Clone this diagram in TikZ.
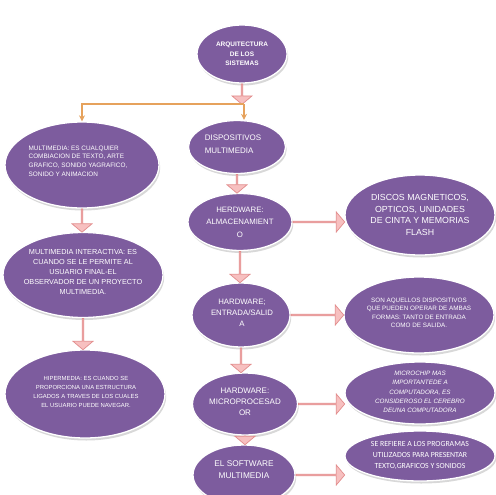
\documentclass[tikz,border=0pt]{standalone}
\usepackage{fontspec}
\setmainfont{Liberation Sans}
\newfontfamily\carl{Carlito}
\usetikzlibrary{shapes.geometric,shapes.arrows,calc,shadows,arrows.meta}
\definecolor{bubfill}{RGB}{125,92,158}
\definecolor{pinkfill}{RGB}{247,192,192}
\definecolor{pinkdraw}{RGB}{226,140,140}
\definecolor{orangeline}{RGB}{230,162,92}
\newcommand\fs[2]{\fontsize{#1}{#2}\selectfont}
\newcommand\pinkarrow[3]{%
  \path let \p1=(#2), \p2=(#3), \n1={veclen(\x2-\x1,\y2-\y1)}, \n2={atan2(\y2-\y1,\x2-\x1)} in
    node[parrow, minimum height=\n1, rotate=\n2] (#1) at ($(\p1)!0.5!(\p2)$) {};}
\tikzset{
  bubble/.style={ellipse, fill=bubfill, draw=white, line width=1.3pt,
    drop shadow={shadow xshift=1.2pt, shadow yshift=-2.5pt, fill=black!30}, inner sep=0pt},
  txt/.style={text=white, align=center, inner sep=0pt},
  parrow/.style={single arrow, fill=pinkfill, draw=pinkdraw, line width=0.7pt,
    minimum width=20pt, single arrow head extend=4pt, single arrow head indent=0pt,
    single arrow tip angle=100, inner sep=0pt},
  oline/.style={draw=orangeline, line width=1.6pt},
  otip/.style={-{Stealth[length=6pt,width=6pt]}}
}
\begin{document}
\begin{tikzpicture}[x=1pt,y=-1pt]
\useasboundingbox[fill=white] (0,0) rectangle (495,495);
% bubbles
\node[bubble, minimum width=90, minimum height=58] (top) at (242,54) {};
\node[bubble, minimum width=154, minimum height=86] (m1) at (82,165) {};
\node[bubble, minimum width=160, minimum height=85] (m2) at (83,275) {};
\node[bubble, minimum width=160, minimum height=88] (m3) at (85,394) {};
\node[bubble, minimum width=97, minimum height=53] (dis) at (237,147) {};
\node[bubble, minimum width=104, minimum height=57] (hw1) at (240,222) {};
\node[bubble, minimum width=150, minimum height=80] (discos) at (420,215) {};
\node[bubble, minimum width=98, minimum height=64] (hw2) at (241,315) {};
\node[bubble, minimum width=150, minimum height=76] (son) at (419,315) {};
\node[bubble, minimum width=105, minimum height=62] (hw3) at (245,404) {};
\node[bubble, minimum width=150, minimum height=62] (micro) at (420,393) {};
\node[bubble, minimum width=102, minimum height=60] (sw) at (244,475) {};
\node[bubble, minimum width=150, minimum height=50] (se) at (420,456) {};
% texts
\node[txt, font=\bfseries\fs{6.5}{9.5}] (topT) at (top) {ARQUITECTURA\\DE LOS\\SISTEMAS};
\node[txt, align=left, font=\fs{6.4}{8.7}] (m1T) at (78,161) {MULTIMEDIA: ES CUALQUIER\\COMBIACION DE TEXTO, ARTE\\GRAFICO, SONIDO YAGRAFICO,\\SONIDO Y ANIMACION};
\node[txt, font=\fs{7.3}{10}] (m2T) at (83,272) {MULTIMEDIA INTERACTIVA: ES\\CUANDO SE LE PERMITE AL\\USUARIO FINAL-EL\\OBSERVADOR DE UN PROYECTO\\MULTIMEDIA.};
\node[txt, font=\fs{5.9}{8.8}] (m3T) at (86,392) {HIPERMEDIA: ES CUANDO SE\\PROPORCIONA UNA ESTRUCTURA\\LIGADOS A TRAVES DE LOS CUALES\\EL USUARIO PUEDE NAVEGAR.};
\node[txt, align=left, font=\fs{8}{13}] (disT) at (233,144) {DISPOSITIVOS\\MULTIMEDIA};
\node[txt, font=\fs{7.8}{12.5}] (hw1T) at (hw1) {HERDWARE:\\ALMACENAMIENT\\O};
\node[txt, font=\fs{8.8}{11.5}] (discosT) at (discos) {DISCOS MAGNETICOS,\\OPTICOS, UNIDADES\\DE CINTA Y MEMORIAS\\FLASH};
\node[txt, font=\fs{7.8}{11}] (hw2T) at (242,313) {HARDWARE;\\ENTRADA/SALID\\A};
\node[txt, font=\fs{6.3}{8.4}] (sonT) at (419,313) {SON AQUELLOS DISPOSITIVOS\\QUE PUEDEN OPERAR DE AMBAS\\FORMAS: TANTO DE ENTRADA\\COMO DE SALIDA.};
\node[txt, font=\fs{8}{11}] (hw3T) at (245,402) {HARDWARE:\\MICROPROCESAD\\OR};
\node[txt, font=\itshape\fs{6.3}{9.2}] (microT) at (420,392) {MICROCHIP MAS\\IMPORTANTEDE A\\COMPUTADORA, ES\\CONSIDEROSO EL CEREBRO\\DEUNA COMPUTADORA};
\node[txt, font=\fs{8.3}{12}] (swT) at (244,470) {EL SOFTWARE\\MULTIMEDIA};
\node[txt, font=\carl\fs{7.8}{11}] (seT) at (420,455) {SE REFIERE A LOS PROGRAMAS\\UTILIZADOS PARA PRESENTAR\\TEXTO,GRAFICOS Y SONIDOS};
% orange connectors
\coordinate (j) at (244,104);
\pinkarrow{a0}{top.south}{top.south |- j}
\draw[oline, otip] (j) -| (m1.north);
\draw[oline, otip] (j) -- (j |- dis.north);
% pink arrows left column
\pinkarrow{a1}{m1.south}{m1.south |- m2.north}
\pinkarrow{a2}{m2.south}{m2.south |- m3.north}
% right column down
\pinkarrow{a3}{dis.south}{dis.south |- hw1.north}
\pinkarrow{a4}{hw1.south}{hw1.south |- hw2.north}
\pinkarrow{a5}{hw2.south}{hw2.south |- hw3.north}
\pinkarrow{a6}{hw3.south}{hw3.south |- sw.north}
% right arrows
\pinkarrow{b1}{hw1.east}{hw1.east -| discos.west}
\pinkarrow{b2}{hw2.east}{hw2.east -| son.west}
\pinkarrow{b3}{hw3.east}{hw3.east -| micro.west}
\pinkarrow{b4}{sw.east}{sw.east -| se.west}
\end{tikzpicture}
\end{document}
